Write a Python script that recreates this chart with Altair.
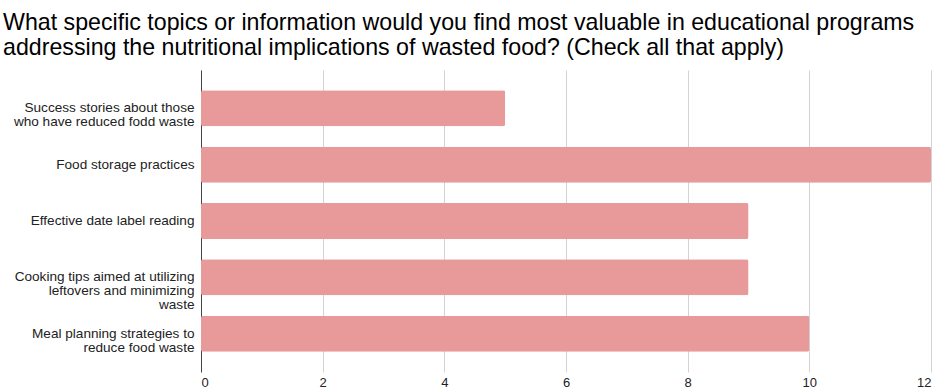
import altair as alt
import pandas as pd

categories = [
    "Success stories about those\nwho have reduced fodd waste",
    "Food storage practices",
    "Effective date label reading",
    "Cooking tips aimed at utilizing\nleftovers and minimizing\nwaste",
    "Meal planning strategies to\nreduce food waste",
]
counts = [5, 12, 9, 9, 10]
x_ticks = [0, 2, 4, 6, 8, 10, 12]
title_lines = [
    "What specific topics or information would you find most valuable in educational programs",
    "addressing the nutritional implications of wasted food? (Check all that apply)",
]

df = pd.DataFrame({"topic": categories, "count": counts})

chart = (
    alt.Chart(df)
    .mark_bar(color="#e8999a", cornerRadius=2)
    .encode(
        x=alt.X(
            "count:Q",
            scale=alt.Scale(domain=[0, 12], nice=False),
            axis=alt.Axis(
                title=None,
                values=x_ticks,
                grid=True,
                gridColor="#d3d3d3",
                domain=False,
                ticks=False,
                labelFontSize=13,
                labelColor="#222222",
                labelFont="Liberation Sans",
                labelPadding=4,
            ),
        ),
        y=alt.Y(
            "topic:N",
            sort=categories,
            scale=alt.Scale(paddingInner=0.36, paddingOuter=0.36),
            axis=alt.Axis(
                title=None,
                ticks=False,
                domainColor="#444444",
                labelFontSize=13.6,
                labelColor="#222222",
                labelFont="Liberation Sans",
                labelLineHeight=14,
                labelPadding=7,
                labelLimit=300,
                labelExpr="split(datum.value, '\\n')",
            ),
        ),
    )
    .properties(
        width=730,
        height=302,
        autosize=alt.AutoSizeParams(type="none"),
        padding={"left": 201, "top": 70, "right": 9, "bottom": 17},
        title=alt.TitleParams(
            text=title_lines,
            anchor="start",
            frame="group",
            dx=-198,
            offset=10,
            fontSize=23.2,
            fontWeight="normal",
            font="Liberation Sans",
            color="#000000",
            lineHeight=24.5,
        ),
    )
    .configure_view(stroke=None)
)

chart.save("out.html", embed_options={"renderer": "svg", "actions": False})
